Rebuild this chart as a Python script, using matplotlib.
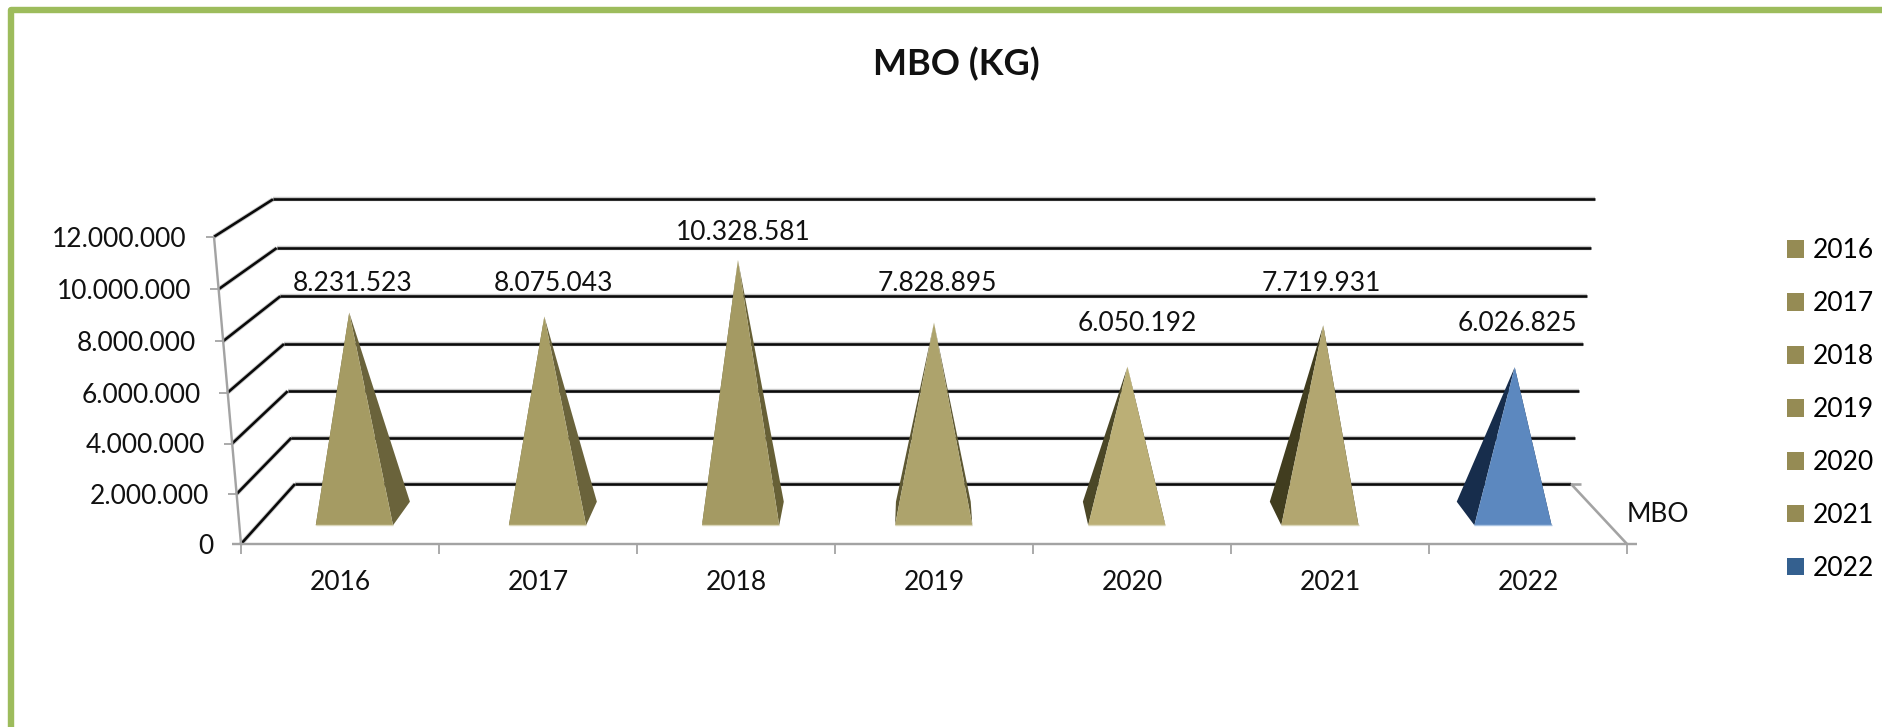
import matplotlib
matplotlib.use("Agg")
import matplotlib.pyplot as plt
from matplotlib.patches import Polygon, Patch

# ---- data ----
years = ["2016", "2017", "2018", "2019", "2020", "2021", "2022"]
mbo_kg = [8231523, 8075043, 10328581, 7828895, 6050192, 7719931, 6026825]
y_ticks = [0, 2000000, 4000000, 6000000, 8000000, 10000000, 12000000]
series_name = "MBO"
title = "MBO (KG)"

# ---- styles ----
front_colors = ["#A59B63", "#A79D64", "#A49A63", "#ADA36C", "#BBAF76", "#B2A670", "#5C88BF"]
side_colors = ["#6A633B", "#6A633B", "#676036", "#5E5833", "#4B4727", "#413D1F", "#172D4C"]
legend_colors = ["#958B54"] * 6 + ["#34608F"]
label_px = [(352.6, 283.3), (554, 283.3), (743, 232.3), (937, 283.3), (1137.5, 323.3), (1321.6, 283.3), (1517.5, 323.3)]
FONT = "Lato"
FS = 19
GRAY = "#A3A3A3"
W, H = 1883, 727

plt.rcParams["font.family"] = FONT
fig = plt.figure(figsize=(W / 100, H / 100), dpi=100, facecolor="white")
ax = fig.add_axes([0, 0, 1, 1])
ax.set_xlim(0, W)
ax.set_ylim(H, 0)
ax.axis("off")


def lerp(a, b, t):
    return a + (b - a) * t


def project(c, value, d):
    """c: category position, value: kg, d: depth 0 (front) to 1 (back)."""
    v = value / 1e6
    u = c / 7
    x = lerp(241 + 198 * c, 295 + 182.3 * c, d) + v / 12 * lerp(-lerp(27, 22, d), lerp(28, 24, d), u)
    y = lerp(544, 484, d) - (lerp(24.82, 22.94, d) * v + 0.0653 * v * v)
    return x, y


def seg(p, q, color, lw, z, cap="butt"):
    ax.plot([p[0], q[0]], [p[1], q[1]], color=color, lw=lw * 0.72, zorder=z, solid_capstyle=cap)


# frame
ax.plot([11, 11, W + 10], [H + 10, 10, 10], color="#9DBC5C", lw=6.4 * 0.72, zorder=1,
        solid_joinstyle="round", clip_on=False)

# gridlines: side wall plus back wall
for t in y_ticks:
    a, b = project(0, t, 0), project(0, t, 1)
    c = project(7, t, 1)
    for color, lw in (("#C9C9C9", 4.4), ("#0A0A0A", 2.6)):
        z = 2 if lw > 3 else 3
        seg(a, b, color, lw, z)
        seg(b, c, color, lw, z)

# floor right edge and its stub
r_back, r_front = project(7, 0, 1), project(7, 0, 0)
seg(r_back, r_front, GRAY, 2.6, 3)
seg(r_back, (r_back[0] + 10, r_back[1]), GRAY, 2.6, 3)

# axes
seg(project(0, 0, 0), project(0, y_ticks[-1], 0), GRAY, 2.4, 4)
seg((232, 544), (r_front[0] + 10, 544), GRAY, 2.4, 4)
for t in y_ticks:
    x, y = project(0, t, 0)
    seg((x - 8, y), (x, y), GRAY, 1.8, 4)
    ax.text(x - 27, y + 2.3, f"{t:,}".replace(",", "."), ha="right", va="center",
            fontsize=FS, color="#111111", zorder=8)
for c in range(8):
    x, y = project(c, 0, 0)
    seg((x, y), (x, y + 9.5), GRAY, 1.8, 4)
for i, yr in enumerate(years):
    x, _ = project(i + 0.5, 0, 0)
    ax.text(x, 582.3, yr, ha="center", va="center", fontsize=FS, color="#111111", zorder=8)
ax.text(1657.5, 514, series_name, ha="center", va="center", fontsize=FS, color="#111111", zorder=8)

# pyramids
D_FRONT, D_BACK, D_MID, HALF = 0.312, 0.705, 0.51, 0.2
for i, val in enumerate(mbo_kg):
    c = i + 0.5
    fl, fr = project(c - HALF, 0, D_FRONT), project(c + HALF, 0, D_FRONT)
    bl, br = project(c - HALF, 0, D_BACK), project(c + HALF, 0, D_BACK)
    apex = project(c, val, D_MID)
    ax.add_patch(Polygon([fr, br, apex], closed=True, fc=side_colors[i], ec="none", zorder=5))
    ax.add_patch(Polygon([fl, bl, apex], closed=True, fc=side_colors[i], ec="none", zorder=5))
    ax.add_patch(Polygon([fl, fr, apex], closed=True, fc=front_colors[i], ec="none", zorder=6))
    seg(fl, fr, "#DAD6B8" if i < 6 else "#A9C3E2", 1.4, 6)
    lx, ly = label_px[i]
    ax.text(lx, ly, f"{val:,}".replace(",", "."), ha="center", va="center",
            fontsize=FS, color="#111111", zorder=8)

# title
ax.text(956, 64, title, ha="center", va="center", fontsize=26, fontweight="bold", color="#111111", zorder=8)

# legend
handles = [Patch(fc=col, ec="none", label=yr) for col, yr in zip(legend_colors, years)]
leg = ax.legend(handles=handles, loc="upper left", bbox_to_anchor=(1787 / W, 1 - 238 / H),
                bbox_transform=fig.transFigure, frameon=False, fontsize=FS, borderpad=0, borderaxespad=0,
                handlelength=0.66, handleheight=0.66, handletextpad=0.3, labelspacing=1.06)

fig.savefig("out.png", dpi=100, facecolor="white")
